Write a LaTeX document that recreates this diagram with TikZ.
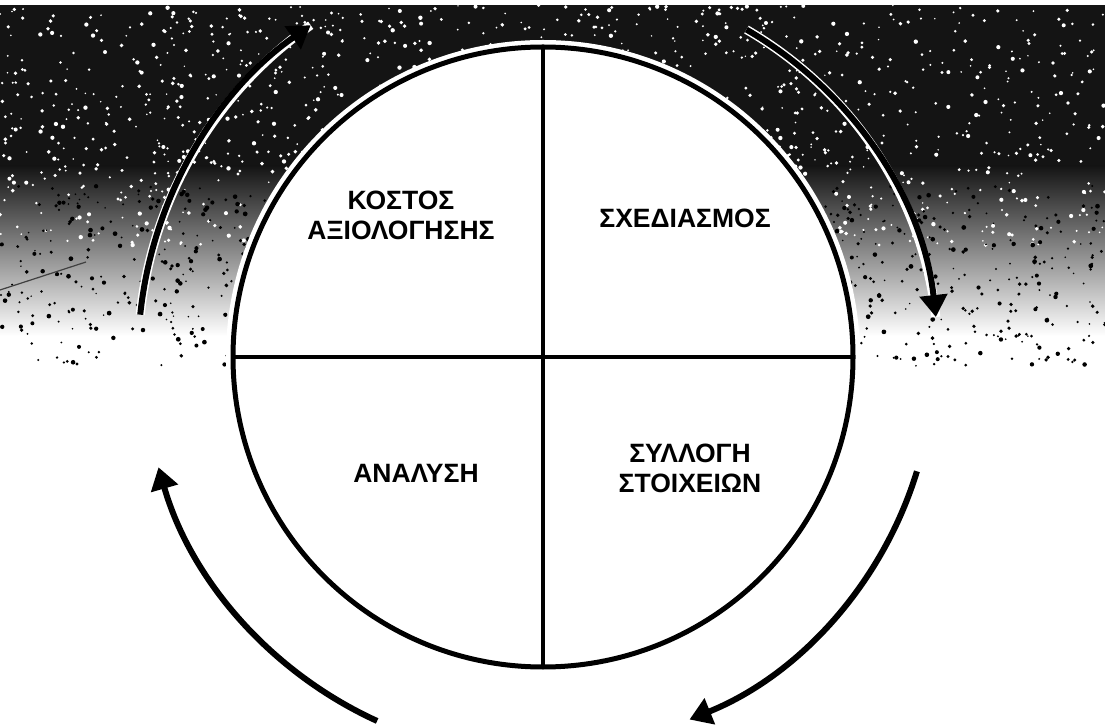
\documentclass[tikz,border=0pt]{standalone}
\usepackage{fontspec}
\setmainfont{Liberation Sans}
\usetikzlibrary{arrows.meta}
\begin{document}
\begin{tikzpicture}[x=1pt,y=1pt,
  cycarrow/.style={line width=6pt, -{Triangle[width=27pt,length=22pt]},
    preaction={draw=white, line width=9pt, arrows=-}},
  lbl/.style={font=\bfseries\fontsize{26.5}{30}\selectfont, align=center, inner sep=0pt},
  quad/.style={line width=4pt}]
\useasboundingbox (0,0) rectangle (1105,726);
\fill[white] (0,0) rectangle (1105,726);
% scanned dark background at the top
\fill[black!92] (0,560) rectangle (1105,721);
\shade[top color=black!92, bottom color=white] (0,390) rectangle (1105,560);
\pgfmathsetseed{7}
\foreach \i in {1,...,1300}{
  \pgfmathsetmacro\px{rnd*1105}\pgfmathsetmacro\py{480+rnd*241}
  \pgfmathsetmacro\pr{0.8+rnd*1.4}
  \fill[white] (\px,\py) circle[radius=\pr pt];}
\foreach \i in {1,...,1100}{
  \pgfmathsetmacro\px{rnd*1105}\pgfmathsetmacro\py{360+rnd*180}
  \pgfmathsetmacro\pr{0.8+rnd*1.6}
  \fill[black] (\px,\py) circle[radius=\pr pt];}
% stray scan marks
\coordinate (s1) at (0,436); \coordinate (s2) at (86,464);
\draw[line width=1.2pt, black!75] (s1) -- (s2);
\coordinate (d1) at (504,203); \coordinate (d2) at (511,202);
\draw[line width=2pt] (d1) -- (d2);
% circle
\coordinate (C) at (543,369);
\fill[white] (C) circle[radius=317pt];
\node[circle, draw, line width=5pt, minimum size=620pt, inner sep=0pt, outer sep=0pt] (ring) at (C) {};
\draw[quad] (ring.north) -- (ring.south);
\draw[quad] (ring.west) -- (ring.east);
% labels
\node[lbl] (kostos) at (401,511) {ΚΟΣΤΟΣ\\ΑΞΙΟΛΟΓΗΣΗΣ};
\node[lbl] (sxed) at (685,508) {ΣΧΕΔΙΑΣΜΟΣ};
\node[lbl] (anal) at (416,253) {ΑΝΑΛΥΣΗ};
\node[lbl] (syll) at (690,258) {ΣΥΛΛΟΓΗ\\ΣΤΟΙΧΕΙΩΝ};
% cycle arrows
\path (C) ++(174:405) coordinate (a1s);
\draw[cycarrow] (a1s) arc[start angle=174, end angle=125, radius=405];
\path (C) ++(59:395 and 382) coordinate (a2s);
\draw[cycarrow] (a2s) arc[start angle=59, end angle=6, x radius=395, y radius=382];
\path (C) ++(-17:391) coordinate (a3s);
\draw[cycarrow] (a3s) arc[start angle=-17, end angle=-68, radius=391];
\path (C) ++(-114.5:400) coordinate (a4s);
\draw[cycarrow] (a4s) arc[start angle=-114.5, end angle=-164, radius=400];
\end{tikzpicture}
\end{document}
